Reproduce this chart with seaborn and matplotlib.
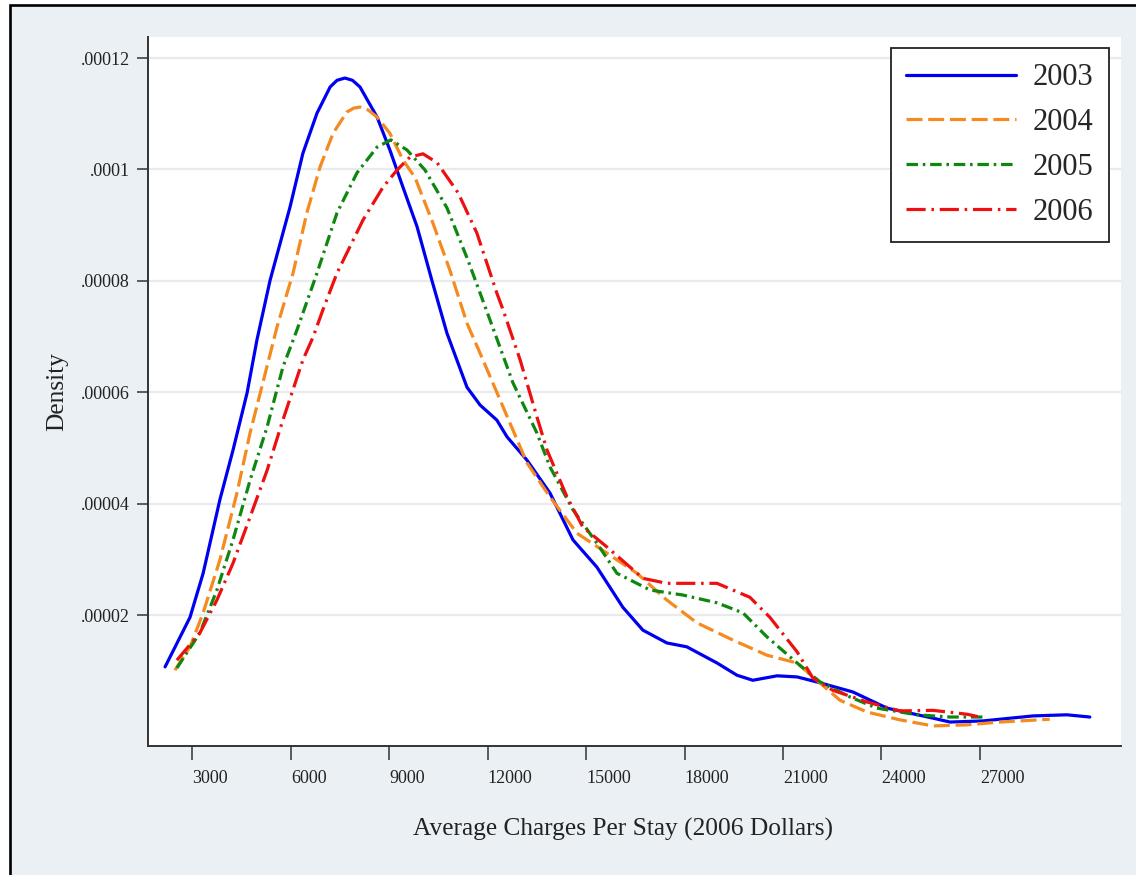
import numpy as np
import pandas as pd
import seaborn as sns
import matplotlib.pyplot as plt
from matplotlib.patches import Rectangle


# --- data (density in units of 1e-5) ---
years = ['2003', '2004', '2005', '2006']

x_2003 = [2170, 2930, 3330, 3840, 4240, 4670, 4970, 5370, 5980, 6370,
          6800, 7200, 7410, 7650, 7880, 8110, 8630, 9020, 9420, 9850, 10300, 10760,
          11370, 11770, 12280, 12590, 13200, 13900, 14600, 15330, 16120, 16730,
          17460, 18070, 18990, 19600, 20080, 20820, 21430, 22030, 23130, 24170,
          25570, 26090, 27090, 28620, 29650, 30350]
y_2003 = [1.07, 1.96, 2.75, 4.07, 4.96, 5.99, 6.94, 8.01, 9.33, 10.29,
          11.01, 11.48, 11.60, 11.64, 11.60, 11.48, 10.94, 10.35, 9.68, 8.97, 8.01, 7.06,
          6.09, 5.77, 5.50, 5.20, 4.78, 4.19, 3.35, 2.86, 2.14, 1.73,
          1.50, 1.43, 1.14, 0.92, 0.83, 0.91, 0.89, 0.80, 0.62, 0.33,
          0.15, 0.08, 0.10, 0.19, 0.21, 0.17]

x_2004 = [2470, 2930, 3330, 3840, 4360, 4760, 5150, 5580, 6070, 6490,
          6890, 7290, 7710, 7920, 8110, 8350, 8630, 9020, 9420, 9790, 10330, 10850,
          11370, 11770, 12380, 13200, 13900, 14720, 15640, 16550, 17460, 18380,
          19480, 20510, 21430, 22030, 22740, 23560, 24560, 25570, 26610, 27610,
          29130]
y_2004 = [1.01, 1.43, 2.04, 2.99, 4.19, 5.27, 6.17, 7.17, 8.14, 9.22,
          10.04, 10.65, 11.03, 11.10, 11.12, 11.07, 10.94, 10.65, 10.17, 9.85, 9.04, 8.19,
          7.24, 6.70, 5.86, 4.73, 4.12, 3.47, 3.11, 2.75, 2.27, 1.86,
          1.55, 1.28, 1.14, 0.83, 0.47, 0.26, 0.12, 0.01, 0.03, 0.08,
          0.13]

x_2005 = [2530, 3230, 3750, 4240, 4760, 5280, 5760, 6190, 6800, 7410,
          8020, 8630, 9050, 9540, 10090, 10760, 11400, 12220, 12770, 13500,
          13900, 14600, 15330, 15940, 16950, 17950, 18990, 19780, 20510, 21430,
          22130, 23040, 23860, 25080, 26090, 27150]
y_2005 = [1.05, 1.68, 2.45, 3.35, 4.42, 5.38, 6.45, 7.12, 8.14, 9.22,
          9.94, 10.40, 10.53, 10.35, 9.99, 9.31, 8.37, 7.06, 6.17, 5.27,
          4.66, 3.89, 3.29, 2.75, 2.45, 2.36, 2.22, 2.04, 1.61, 1.14,
          0.80, 0.53, 0.33, 0.21, 0.17, 0.17]

x_2006 = [2530, 3230, 3750, 4240, 4760, 5280, 5760, 6370, 6680, 6980,
          7410, 8200, 8810, 9240, 9630, 10030, 10460, 11100, 11670, 12280,
          12470, 12990, 13500, 13810, 14420, 14900, 15640, 16730, 17460, 18990,
          19990, 20600, 21430, 21910, 22520, 23560, 24560, 25570, 26610, 27000]
y_2006 = [1.19, 1.68, 2.27, 2.93, 3.76, 4.60, 5.50, 6.58, 6.99, 7.48,
          8.14, 9.09, 9.68, 9.99, 10.22, 10.28, 10.12, 9.58, 8.86, 7.78,
          7.48, 6.58, 5.56, 4.96, 4.12, 3.58, 3.22, 2.66, 2.57, 2.57,
          2.32, 1.96, 1.34, 0.87, 0.65, 0.44, 0.28, 0.29, 0.22, 0.17]

x_ticks = [3000, 6000, 9000, 12000, 15000, 18000, 21000, 24000, 27000]
y_ticks = [0.00002, 0.00004, 0.00006, 0.00008, 0.0001, 0.00012]
y_tick_labels = ['.00002', '.00004', '.00006', '.00008', '.0001', '.00012']

# --- long-form table ---
xs = [x_2003, x_2004, x_2005, x_2006]
ys = [y_2003, y_2004, y_2005, y_2006]
frames = []
for yr, xv, yv in zip(years, xs, ys):
    frames.append(pd.DataFrame({'charges': xv,
                                'density': np.array(yv) * 1e-5,
                                'year': yr}))
df = pd.concat(frames, ignore_index=True)

colors = {'2003': '#0000F0', '2004': '#F58A1F', '2005': '#0E870E', '2006': '#EE1010'}
styles = {'2003': '-',
          '2004': (0, (5, 1.8)),
          '2005': (0, (3.6, 1.5, 0.8, 1.5)),
          '2006': (0, (6, 1.8, 0.8, 1.8))}

sns.set_style('white')
plt.rcParams['font.family'] = ['Liberation Serif', 'DejaVu Serif']

BG = '#EAF0F3'
fig = plt.figure(figsize=(11.36, 8.75), dpi=100, facecolor='white')
# outer Stata-like frame
fig.add_artist(Rectangle((10 / 1136, -0.1), 1.2, 1 - 5 / 875 + 0.1,
                         transform=fig.transFigure, facecolor=BG,
                         edgecolor='black', linewidth=1.9, zorder=0))

ax = fig.add_axes([148 / 1136, 1 - 746 / 875, (1121 - 148) / 1136, (746 - 37) / 875])
ax.set_facecolor('white')

for yr in years:
    sub = df[df['year'] == yr]
    sns.lineplot(data=sub, x='charges', y='density', ax=ax, color=colors[yr],
                 linestyle=styles[yr], linewidth=2.3, estimator=None,
                 sort=False, label=yr)

ax.set_xlim(1650, 31300)
ax.set_ylim(-0.0000035, 0.00012377)
ax.set_xticks(x_ticks)
# Stata export puts the x tick labels just right of their ticks
ax.set_xticklabels([str(t) for t in x_ticks], ha='left')
ax.set_yticks(y_ticks)
ax.set_yticklabels(y_tick_labels)

ax.yaxis.grid(True, color='#E7EBEE', linewidth=1.6)
ax.xaxis.grid(False)
ax.set_axisbelow(True)

for side in ['top', 'right']:
    ax.spines[side].set_visible(False)
for side in ['left', 'bottom']:
    ax.spines[side].set_color('#333333')
    ax.spines[side].set_linewidth(1.4)

ax.tick_params(axis='y', length=8, width=1.1, color='#333333', pad=5,
               labelsize=13, labelcolor='#222222', left=True)
ax.tick_params(axis='x', length=10, width=1.1, color='#333333', pad=7,
               labelsize=13, labelcolor='#222222', bottom=True)

ax.set_xlabel('Average Charges Per Stay (2006 Dollars)', fontsize=18.3, color='#222222')
ax.set_ylabel('Density', fontsize=18.3, color='#222222')
ax.xaxis.label.set_va('center')
ax.yaxis.label.set_va('center')
ax.xaxis.set_label_coords(0.488, -0.118)
ax.yaxis.set_label_coords(-0.0935, 0.5)

leg = ax.legend(loc='upper right', bbox_to_anchor=(0.9877, 0.9845),
                borderaxespad=0, fontsize=22, handlelength=3.6,
                handletextpad=0.55, labelspacing=0.52, borderpad=0.5,
                fancybox=False, framealpha=1, edgecolor='#222222')
leg.get_frame().set_linewidth(1.3)

fig.savefig('out.png', dpi=100, facecolor='white')
